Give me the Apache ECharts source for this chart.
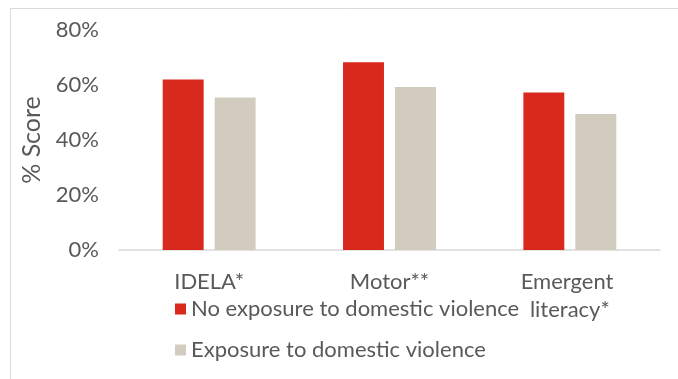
<!DOCTYPE html>
<html><head><meta charset="utf-8">
<script src="https://cdn.jsdelivr.net/npm/echarts@6/dist/echarts.min.js"></script>
<style>html,body{margin:0;padding:0;background:#fff}#c{width:678px;height:379px}</style>
</head><body><div id="c"></div>
<script>
var categories = ["IDELA*", "Motor**", "Emergent literacy*"];
var noExposure = [0.62, 0.683, 0.573];
var exposure = [0.555, 0.593, 0.495];
var seriesNames = ["No exposure to domestic violence", "Exposure to domestic violence"];
var yTicks = [0, 0.2, 0.4, 0.6, 0.8];

var font = "Lato";
var chart = echarts.init(document.getElementById('c'));
chart.setOption({
  animation: false,
  backgroundColor: '#fff',
  graphic: [{type:'rect', shape:{x:10.5,y:8.5,width:800,height:500}, style:{fill:'none', stroke:'#d9d9d9', lineWidth:1}}],
  grid: {left:119, right:18, top:30, bottom:129},
  legend: {
    orient:'vertical', left:170, top:293, itemGap:19, itemWidth:11, itemHeight:11, icon:'rect',
    textStyle:{fontFamily:font, fontSize:22, color:'#595959'},
    data: seriesNames
  },
  xAxis: {
    type:'category', data:categories,
    axisLine:{lineStyle:{color:'#d9d9d9', width:1.5}},
    axisTick:{show:false},
    axisLabel:{fontFamily:font, fontSize:22, color:'#595959', margin:18, lineHeight:28, width:115, overflow:'break', interval:0}
  },
  yAxis: {
    type:'value', min:0, max:0.8, interval:0.2,
    name:'% Score', nameLocation:'middle', nameGap:75, nameRotate:90,
    nameTextStyle:{fontFamily:font, fontSize:25, color:'#595959'},
    axisLine:{show:false}, axisTick:{show:false}, splitLine:{show:false},
    axisLabel:{fontFamily:font, fontSize:22, color:'#595959', margin:20,
      formatter:function(v){return Math.round(v*100)+'%';}}
  },
  series: [
    {name:seriesNames[0], type:'bar', data:noExposure, barWidth:'22.7%', barGap:'27%', itemStyle:{color:'#D9291C'}},
    {name:seriesNames[1], type:'bar', data:exposure, barWidth:'22.7%', itemStyle:{color:'#D2CCBF'}}
  ]
});
</script></body></html>
